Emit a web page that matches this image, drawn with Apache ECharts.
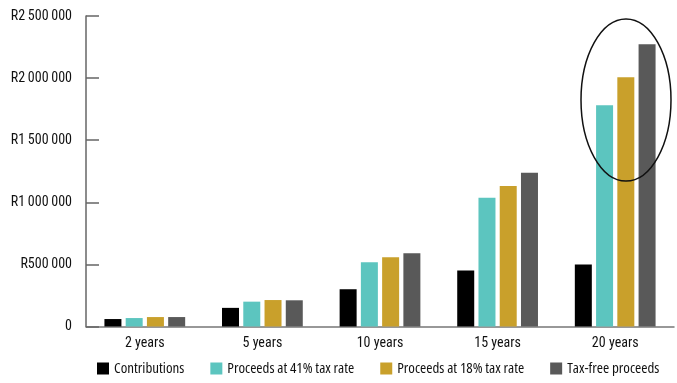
<!DOCTYPE html>
<html>
<head>
<meta charset="utf-8">
<script src="https://cdn.jsdelivr.net/npm/echarts@6/dist/echarts.min.js"></script>
<style>
  html, body { margin: 0; padding: 0; background: #fff; }
  #chart { width: 677px; height: 383px; }
</style>
</head>
<body>
<div id="chart"></div>
<script>
const categories = ['2 years', '5 years', '10 years', '15 years', '20 years'];
const contributions = [60000, 150000, 300000, 450000, 500000];
const proceeds41 = [68000, 200000, 517000, 1037000, 1781000];
const proceeds18 = [76000, 213000, 557000, 1131000, 2006000];
const taxFree = [76000, 211000, 589000, 1238000, 2272000];
const seriesNames = ['Contributions', 'Proceeds at 41% tax rate', 'Proceeds at 18% tax rate', 'Tax-free proceeds'];
const seriesColors = ['#000000', '#5cc5bf', '#c9a02b', '#595959'];

// Condensed widths of the installed sans faces
const AXIS_FONT = 'Roboto';
const LEGEND_FONT = '"Open Sans"';
const STRETCH = 'condensed';

function randFormat(v) {
  if (v === 0) return '0';
  return 'R' + String(v).replace(/\B(?=(\d{3})+(?!\d))/g, '\u2009');
}

const chart = echarts.init(document.getElementById('chart'));
const values = [contributions, proceeds41, proceeds18, taxFree];

chart.setOption({
  animation: false,
  backgroundColor: '#ffffff',
  grid: { left: 86, right: 3, top: 16, bottom: 56.5, containLabel: false, outerBoundsMode: 'none' },
  legend: {
    bottom: 2,
    left: 92,
    width: 585,
    itemWidth: 12,
    itemHeight: 12,
    itemGap: 26,
    icon: 'rect',
    textStyle: { fontFamily: LEGEND_FONT, fontStyle: STRETCH, fontSize: 15, color: '#111' },
    data: seriesNames
  },
  xAxis: {
    type: 'category',
    data: categories,
    axisLine: { lineStyle: { color: '#777', width: 1.5 } },
    axisTick: { show: false },
    axisLabel: { fontFamily: AXIS_FONT, fontStyle: STRETCH, fontSize: 14, color: '#111', margin: 10 }
  },
  yAxis: {
    type: 'value',
    min: 0,
    max: 2500000,
    interval: 500000,
    splitLine: { show: false },
    axisLine: { show: true, lineStyle: { color: '#666', width: 1.5 } },
    axisTick: { show: true, inside: true, length: 13, lineStyle: { color: '#666', width: 1.5 } },
    axisLabel: { fontFamily: AXIS_FONT, fontStyle: STRETCH, fontSize: 14, color: '#111', margin: 14, formatter: randFormat }
  },
  series: seriesNames.map((name, i) => ({
    name: name,
    type: 'bar',
    data: values[i],
    barWidth: 17,
    barGap: '25%',
    itemStyle: { color: seriesColors[i] }
  })),
  graphic: [{
    type: 'ellipse',
    shape: { cx: 626, cy: 100, rx: 45, ry: 81 },
    style: { fill: 'none', stroke: '#111', lineWidth: 1.5 },
    z: 100
  }]
});
</script>
</body>
</html>
